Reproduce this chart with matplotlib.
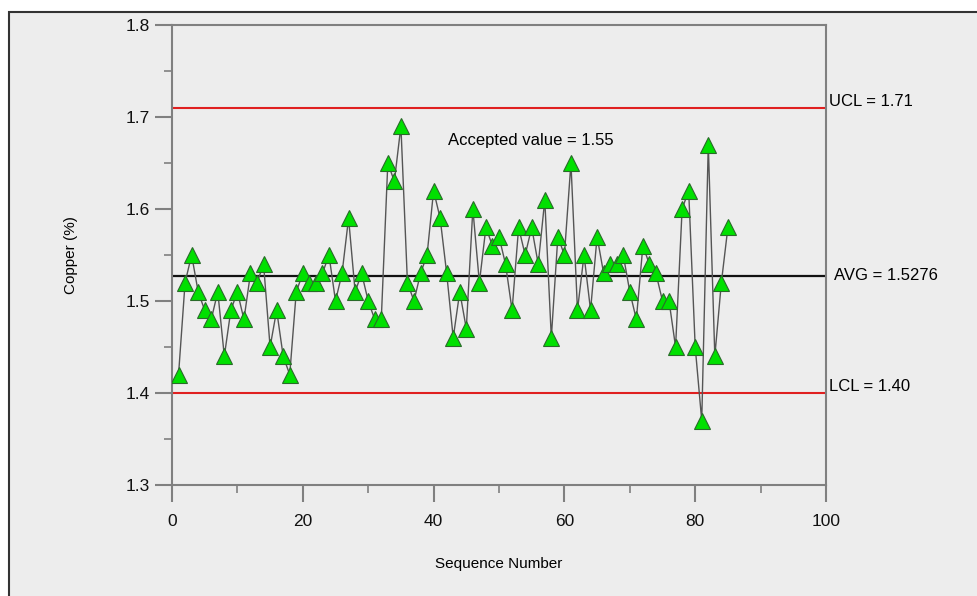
#
# Imports
#
import numpy as np
import matplotlib
matplotlib.use("Agg")
import matplotlib.pyplot as plt
from matplotlib.patches import Rectangle
from matplotlib.ticker import MultipleLocator

#
# Data
#
seq = list(range(1, 86))
copper = [1.42, 1.52, 1.55, 1.51, 1.49, 1.48, 1.51, 1.44, 1.49, 1.51,
          1.48, 1.53, 1.52, 1.54, 1.45, 1.49, 1.44, 1.42, 1.51, 1.53,
          1.52, 1.52, 1.53, 1.55, 1.50, 1.53, 1.59, 1.51, 1.53, 1.50,
          1.48, 1.48, 1.65, 1.63, 1.69, 1.52, 1.50, 1.53, 1.55, 1.62,
          1.59, 1.53, 1.46, 1.51, 1.47, 1.60, 1.52, 1.58, 1.56, 1.57,
          1.54, 1.49, 1.58, 1.55, 1.58, 1.54, 1.61, 1.46, 1.57, 1.55,
          1.65, 1.49, 1.55, 1.49, 1.57, 1.53, 1.54, 1.54, 1.55, 1.51,
          1.48, 1.56, 1.54, 1.53, 1.50, 1.50, 1.45, 1.60, 1.62, 1.45,
          1.37, 1.67, 1.44, 1.52, 1.58]

ucl = 1.71
avg = 1.5276
lcl = 1.40
accepted = 1.55

#
# Plot
#
plt.rcParams['font.family'] = ['Liberation Sans', 'DejaVu Sans']

bg = '#EDEDED'
fig = plt.figure(figsize=(9.77, 5.96), dpi=100, facecolor='white')

# panel frame (top and left edges visible)
fig.patches.append(Rectangle((9 / 977, -0.05), 1.0, 1 - 12 / 596 + 0.05,
                             transform=fig.transFigure, facecolor=bg,
                             edgecolor='#333333', linewidth=1.5, zorder=-10))

ax = fig.add_axes([172 / 977, 1 - 485 / 596, 654 / 977, 460 / 596])
ax.set_facecolor(bg)

ax.axhline(ucl, color='#E02020', linewidth=1.5, zorder=2)
ax.axhline(lcl, color='#E02020', linewidth=1.5, zorder=2)
ax.axhline(avg, color='#111111', linewidth=1.6, zorder=2)

ax.plot(seq, copper, color='#555555', linewidth=1.0, zorder=3)
ax.plot(seq, copper, linestyle='none', marker='^', markersize=11,
        markerfacecolor='#00E000', markeredgecolor='#2a6a2a',
        markeredgewidth=0.8, zorder=4)

ax.set_xlim(0, 100)
ax.set_ylim(1.3, 1.8)
ax.xaxis.set_major_locator(MultipleLocator(20))
ax.xaxis.set_minor_locator(MultipleLocator(10))
ax.yaxis.set_major_locator(MultipleLocator(0.1))
ax.yaxis.set_minor_locator(MultipleLocator(0.05))
ax.yaxis.set_major_formatter(plt.FormatStrFormatter('%.1f'))

for s in ax.spines.values():
    s.set_color('#808080')
    s.set_linewidth(1.5)
ax.tick_params(which='major', length=12, width=1.5, color='#808080',
               labelsize=12.5, colors='#808080', labelcolor='#111111')
ax.tick_params(axis='y', which='major', pad=4)
ax.tick_params(axis='x', which='major', pad=9)
ax.tick_params(which='minor', length=6, width=1.2, color='#808080')

ax.set_xlabel('Sequence Number', fontsize=11, labelpad=20)
ax.set_ylabel('Copper (%)', fontsize=11, labelpad=34)

ax.text(100.5, ucl - 0.001, 'UCL = 1.71', fontsize=12, va='bottom',
        ha='left', clip_on=False)
ax.text(101.2, avg, 'AVG = 1.5276', fontsize=12, va='center',
        ha='left', clip_on=False)
ax.text(100.5, lcl - 0.001, 'LCL = 1.40', fontsize=12, va='bottom',
        ha='left', clip_on=False)
ax.text(42.2, 1.675, 'Accepted value = 1.55', fontsize=12, va='center',
        ha='left')

fig.savefig('out.png', dpi=100, facecolor=fig.get_facecolor())
